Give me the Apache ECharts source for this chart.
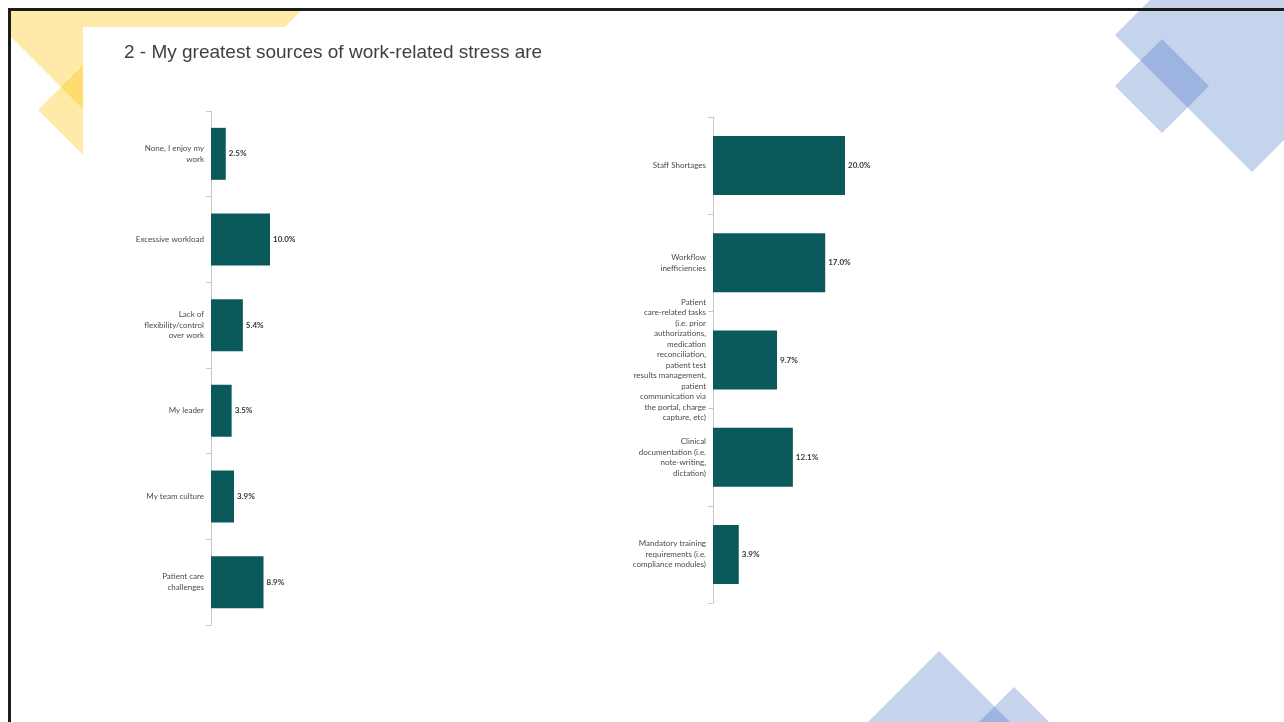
<!DOCTYPE html>
<html>
<head>
<meta charset="utf-8">
<title>Work-related stress sources</title>
<script src="https://cdn.jsdelivr.net/npm/echarts@6/dist/echarts.min.js"></script>
<style>
  html, body { margin: 0; padding: 0; background: #ffffff; }
  #chart { width: 1284px; height: 722px; }
</style>
</head>
<body>
<div id="chart"></div>
<script>
// Survey question title
const titleText = '2 - My greatest sources of work-related stress are';

// Left panel: categories and share of responses (%)
const leftCategories = [
  'None, I enjoy my\nwork',
  'Excessive workload',
  'Lack of\nflexibility/control\nover work',
  'My leader',
  'My team culture',
  'Patient care\nchallenges'
];
const leftValues = [2.5, 10.0, 5.4, 3.5, 3.9, 8.9];

// Right panel: categories and share of responses (%)
const rightCategories = [
  'Staff Shortages',
  'Workflow\ninefficiencies',
  'Patient\ncare-related tasks\n(i.e. prior\nauthorizations,\nmedication\nreconciliation,\npatient test\nresults management,\npatient\ncommunication via\nthe portal, charge\ncapture, etc)',
  'Clinical\ndocumentation (i.e.\nnote-writing,\ndictation)',
  'Mandatory training\nrequirements (i.e.\ncompliance modules)'
];
const rightValues = [20.0, 17.0, 9.7, 12.1, 3.9];

const BAR_COLOR = '#0a5a5b';
const LABEL_FONT = 'Lato, "Open Sans", sans-serif';

function categoryAxis(gridIndex, cats) {
  return {
    type: 'category',
    gridIndex: gridIndex,
    data: cats,
    inverse: true,
    axisLine: { show: true, lineStyle: { color: '#c8c8c8', width: 1 } },
    axisTick: { show: true, length: 5, lineStyle: { color: '#c8c8c8' } },
    axisLabel: {
      fontFamily: LABEL_FONT,
      fontSize: 8,
      lineHeight: 10.5,
      color: '#4a4a4a',
      margin: 7,
      align: 'right'
    }
  };
}

function valueAxis(gridIndex) {
  return {
    type: 'value',
    gridIndex: gridIndex,
    min: 0,
    max: 50,
    show: false,
    splitLine: { show: false }
  };
}

function barSeries(idx, values, width) {
  return {
    type: 'bar',
    xAxisIndex: idx,
    yAxisIndex: idx,
    data: values,
    barWidth: width,
    itemStyle: { color: BAR_COLOR },
    label: {
      show: true,
      position: 'right',
      distance: 3,
      fontFamily: LABEL_FONT,
      fontSize: 8,
      fontWeight: 'bold',
      color: '#2f3a3a',
      formatter: p => p.value.toFixed(1) + '%'
    },
    silent: true
  };
}

// Decorative slide shapes (yellow corner, white content panel, blue diamonds)
const yellow = 'rgba(255,192,0,0.34)';
const blue = 'rgba(68,114,196,0.31)';
const decorations = [
  { type: 'polygon', z: -10, shape: { points: [[11, 10], [302, 10], [143, 169], [11, 37]] }, style: { fill: yellow } },
  { type: 'polygon', z: -10, shape: { points: [[38, 110], [112, 36], [186, 110], [112, 184]] }, style: { fill: yellow } },
  { type: 'rect', z: -9, shape: { x: 83, y: 27, width: 1201, height: 695 }, style: { fill: '#ffffff' } },
  { type: 'polygon', z: 20, shape: { points: [[1115, 35], [1252, -102], [1389, 35], [1252, 172]] }, style: { fill: blue } },
  { type: 'polygon', z: 20, shape: { points: [[1115, 86], [1162, 39], [1209, 86], [1162, 133]] }, style: { fill: blue } },
  { type: 'polygon', z: 20, shape: { points: [[939, 651], [1030, 742], [939, 833], [848, 742]] }, style: { fill: blue } },
  { type: 'polygon', z: 20, shape: { points: [[1014, 687], [1064, 737], [1014, 787], [964, 737]] }, style: { fill: blue } },
  { type: 'line', z: 30, shape: { x1: 8, y1: 9.5, x2: 1284, y2: 9.5 }, style: { stroke: '#1c1c1c', lineWidth: 3 } },
  { type: 'line', z: 30, shape: { x1: 9.5, y1: 8, x2: 9.5, y2: 722 }, style: { stroke: '#1c1c1c', lineWidth: 3 } }
];

const chart = echarts.init(document.getElementById('chart'), null, { renderer: 'canvas' });
chart.setOption({
  backgroundColor: '#ffffff',
  animation: false,
  title: {
    text: titleText,
    left: 119,
    top: 38,
    textStyle: {
      fontFamily: '"Liberation Sans", Arial, sans-serif',
      fontSize: 19,
      fontWeight: 'normal',
      color: '#404040'
    }
  },
  graphic: decorations,
  grid: [
    { left: 211, top: 111, width: 295, height: 514 },
    { left: 713, top: 117, width: 330, height: 486 }
  ],
  xAxis: [valueAxis(0), valueAxis(1)],
  yAxis: [categoryAxis(0, leftCategories), categoryAxis(1, rightCategories)],
  series: [barSeries(0, leftValues, 52), barSeries(1, rightValues, 59)]
});
</script>
</body>
</html>
